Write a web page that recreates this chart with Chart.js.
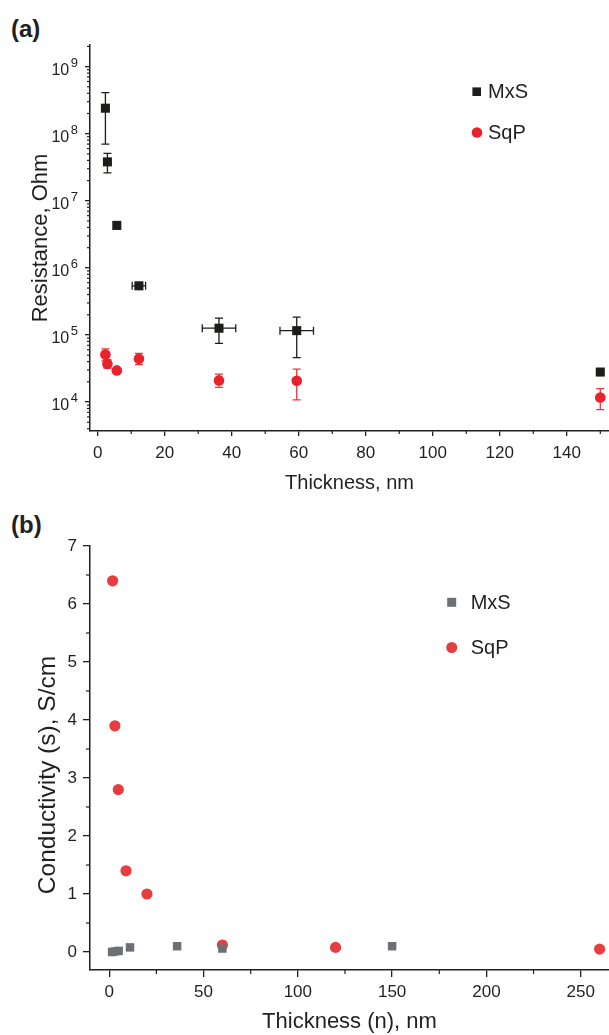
<!DOCTYPE html>
<html>
<head>
<meta charset="utf-8">
<script src="https://cdn.jsdelivr.net/npm/chart.js@4.4.1/dist/chart.umd.min.js"></script>
<style>
  body { margin: 0; background: #fff; width: 609px; height: 1035px; position: relative; overflow: hidden;
         font-family: "Liberation Sans", Arial, Helvetica, sans-serif; }
  .panel { position: absolute; left: 11px; font-weight: bold; font-size: 24px; line-height: 1; color: #231f20; }
  .wrap { position: absolute; left: 0; }
</style>
</head>
<body>
<div class="panel" style="top:17px">(a)</div>
<div class="panel" style="top:513px">(b)</div>
<div class="wrap" style="top:0"><canvas id="chartA" width="609" height="500"></canvas></div>
<div class="wrap" style="top:500px"><canvas id="chartB" width="609" height="535"></canvas></div>
<script>
const fontFamily = '"Liberation Sans", Arial, Helvetica, sans-serif';
const ink = '#231f20';

// (a) resistance vs thickness
const thickA = [2.3, 2.9, 5.7, 12.3, 36.2, 59.4, 150];
const mxsRes = [2.4e8, 3.8e7, 4.3e6, 5.4e5, 1.26e5, 1.16e5, 2.8e4];
const mxsResHi = [4.1e8, 5.1e7, 4.9e6, null, 1.78e5, 1.84e5, null];
const mxsResLo = [7.0e7, 2.6e7, 3.8e6, null, 7.5e4, 4.6e4, null];
const mxsThickErr = [0, 0, 0, 2, 5, 5, 0];
const sqpRes = [5.1e4, 3.7e4, 2.96e4, 4.4e4, 2.1e4, 2.08e4, 1.17e4];
const sqpResHi = [6.2e4, 4.3e4, null, 5.3e4, 2.6e4, 3.1e4, 1.58e4];
const sqpResLo = [4.1e4, 3.2e4, null, 3.6e4, 1.65e4, 1.08e4, 7.7e3];
const ticksAx = [0, 20, 40, 60, 80, 100, 120, 140];
const minorAx = [10, 30, 50, 70, 90, 110, 130, 150];
const ticksAy = [1e4, 1e5, 1e6, 1e7, 1e8, 1e9];

// (b) conductivity vs thickness
const thickMxsB = [1.5, 3, 5, 11, 36, 60, 150];
const condMxs = [0.0, 0.01, 0.02, 0.08, 0.1, 0.06, 0.1];
const thickSqpB = [1.8, 3, 4.8, 8.9, 20, 60, 120, 260];
const condSqp = [6.4, 3.9, 2.8, 1.4, 1.0, 0.12, 0.08, 0.05];
const ticksBx = [0, 50, 100, 150, 200, 250];
const minorBx = [25, 75, 125, 175, 225];
const ticksBy = [0, 1, 2, 3, 4, 5, 6, 7];
const minorBy = [0.5, 1.5, 2.5, 3.5, 4.5, 5.5, 6.5];

// minor ticks of a log axis: 2..9 x 10^k
const minorAy = [];
for (let k = 3; k <= 9; k++) for (let m = 2; m <= 9; m++) minorAy.push(m * Math.pow(10, k));

const pts = (xs, ys) => xs.map((x, i) => ({ x, y: ys[i] }));

function drawMinor(chart, id, values, len) {
  const s = chart.scales[id], ctx = chart.ctx;
  ctx.save();
  ctx.strokeStyle = ink;
  ctx.lineWidth = 1.2;
  values.forEach(v => {
    if (v < s.min || v > s.max) return;
    const p = s.getPixelForValue(v);
    ctx.beginPath();
    if (s.isHorizontal()) { ctx.moveTo(p, s.top); ctx.lineTo(p, s.top + len); }
    else { ctx.moveTo(s.right, p); ctx.lineTo(s.right - len, p); }
    ctx.stroke();
  });
  ctx.restore();
}

function drawErrors(chart, xs, ys, hi, lo, xErr, color) {
  const { ctx, scales: { x, y } } = chart;
  const cap = 4;
  ctx.save();
  ctx.strokeStyle = color;
  ctx.lineWidth = 1.3;
  xs.forEach((xv, i) => {
    const px = x.getPixelForValue(xv), py = y.getPixelForValue(ys[i]);
    ctx.beginPath();
    if (hi[i] != null) {
      const t = y.getPixelForValue(hi[i]), b = y.getPixelForValue(lo[i]);
      ctx.moveTo(px, t); ctx.lineTo(px, b);
      ctx.moveTo(px - cap, t); ctx.lineTo(px + cap, t);
      ctx.moveTo(px - cap, b); ctx.lineTo(px + cap, b);
    }
    if (xErr && xErr[i]) {
      const l = x.getPixelForValue(xv - xErr[i]), r = x.getPixelForValue(xv + xErr[i]);
      ctx.moveTo(l, py); ctx.lineTo(r, py);
      ctx.moveTo(l, py - cap); ctx.lineTo(l, py + cap);
      ctx.moveTo(r, py - cap); ctx.lineTo(r, py + cap);
    }
    ctx.stroke();
  });
  ctx.restore();
}

function drawLegend(ctx, items, size) {
  ctx.save();
  ctx.font = size + 'px ' + fontFamily;
  ctx.textBaseline = 'middle';
  ctx.textAlign = 'left';
  items.forEach(it => {
    ctx.fillStyle = it.color;
    if (it.shape === 'rect') ctx.fillRect(it.x - it.r, it.y - it.r, it.r * 2, it.r * 2);
    else { ctx.beginPath(); ctx.arc(it.x, it.y, it.r, 0, Math.PI * 2); ctx.fill(); }
    ctx.fillStyle = ink;
    ctx.fillText(it.label, it.tx, it.y + 1);
  });
  ctx.restore();
}

// fixed scale boxes so the plot area lands where the original has it
const fitX = h => s => { s.height = h; s.paddingLeft = 0; s.paddingRight = 0; };
const fitY = s => { s.width = 90; };

function axis(extra) {
  return Object.assign({
    type: 'linear',
    border: { display: true, color: ink, width: 1.5 },
    grid: { drawOnChartArea: false, drawTicks: true, tickLength: 6, color: ink, lineWidth: 1.3 },
    ticks: { color: ink, font: { family: fontFamily, size: 17 }, autoSkip: false, maxRotation: 0 }
  }, extra);
}

Chart.defaults.font.family = fontFamily;
Chart.defaults.color = ink;

new Chart(document.getElementById('chartA'), {
  type: 'scatter',
  data: {
    datasets: [
      { label: 'MxS', data: pts(thickA, mxsRes), pointStyle: 'rect', pointRadius: 6.4,
        pointBackgroundColor: '#1d1d1b', pointBorderWidth: 0, clip: false },
      { label: 'SqP', data: pts(thickA, sqpRes), pointStyle: 'circle', pointRadius: 5.3,
        pointBackgroundColor: '#e8212a', pointBorderWidth: 0, clip: false }
    ]
  },
  options: {
    responsive: false,
    animation: false,
    layout: { autoPadding: false, padding: { top: 45, left: 0, right: 0, bottom: 0 } },
    plugins: { legend: { display: false }, tooltip: { enabled: false } },
    scales: {
      x: axis({
        min: -2.3, max: 152.6,
        afterBuildTicks: s => { s.ticks = ticksAx.map(v => ({ value: v })); },
        afterFit: fitX(69),
        ticks: { color: ink, font: { family: fontFamily, size: 17 }, autoSkip: false, maxRotation: 0, padding: 7 },
        grid: { drawOnChartArea: false, drawTicks: true, tickLength: 5, color: ink, lineWidth: 1.3 },
        title: { display: true, text: 'Thickness, nm', color: ink,
                 font: { family: fontFamily, size: 20 }, padding: { top: 0, bottom: 5 } }
      }),
      y: axis({
        type: 'logarithmic',
        min: 3.7e3, max: 2.1e9,
        afterBuildTicks: s => { s.ticks = ticksAy.map(v => ({ value: v })); },
        afterFit: fitY,
        ticks: { callback: () => '', autoSkip: false },
        grid: { drawOnChartArea: false, drawTicks: true, tickLength: 5, color: ink, lineWidth: 1.3 },
        title: { display: true, text: 'Resistance, Ohm', color: ink,
                 font: { family: fontFamily, size: 22 }, padding: { top: 28, bottom: 0 } }
      })
    }
  },
  plugins: [{
    id: 'extrasA',
    beforeDatasetsDraw(chart) {
      drawErrors(chart, thickA, mxsRes, mxsResHi, mxsResLo, mxsThickErr, '#1d1d1b');
      drawErrors(chart, thickA, sqpRes, sqpResHi, sqpResLo, null, '#e8373c');
    },
    afterDraw(chart) {
      drawMinor(chart, 'x', minorAx, 3);
      drawMinor(chart, 'y', minorAy, 3);
      const s = chart.scales.y, ctx = chart.ctx;
      ctx.save();
      ctx.fillStyle = ink;
      ctx.textAlign = 'right';
      ctx.textBaseline = 'alphabetic';
      ticksAy.forEach(v => {
        const py = s.getPixelForValue(v);
        const exp = String(Math.round(Math.log10(v)));
        ctx.font = '13px ' + fontFamily;
        const ew = ctx.measureText(exp).width;
        ctx.fillText(exp, 78, py);
        ctx.font = '16px ' + fontFamily;
        ctx.fillText('10', 78 - ew - 1.5, py + 8);
      });
      ctx.restore();
      drawLegend(ctx, [
        { shape: 'rect', color: '#1d1d1b', x: 476.7, y: 91.7, r: 4.3, tx: 488, label: 'MxS' },
        { shape: 'circle', color: '#e8212a', x: 477, y: 132.5, r: 5.3, tx: 488, label: 'SqP' }
      ], 20);
    }
  }]
});

new Chart(document.getElementById('chartB'), {
  type: 'scatter',
  data: {
    datasets: [
      { label: 'MxS', data: pts(thickMxsB, condMxs), pointStyle: 'rect', pointRadius: 6,
        pointBackgroundColor: '#6e6f73', pointBorderWidth: 0, clip: false },
      { label: 'SqP', data: pts(thickSqpB, condSqp), pointStyle: 'circle', pointRadius: 5.6,
        pointBackgroundColor: '#e93c3f', pointBorderWidth: 0, clip: false }
    ]
  },
  options: {
    responsive: false,
    animation: false,
    layout: { autoPadding: false, padding: { top: 46, left: 0, right: 0, bottom: 0 } },
    plugins: { legend: { display: false }, tooltip: { enabled: false } },
    scales: {
      x: axis({
        min: -10.2, max: 265,
        afterBuildTicks: s => { s.ticks = ticksBx.map(v => ({ value: v })); },
        afterFit: fitX(65),
        ticks: { color: ink, font: { family: fontFamily, size: 17 }, autoSkip: false, maxRotation: 0, padding: 5 },
        grid: { drawOnChartArea: false, drawTicks: true, tickLength: 7, color: ink, lineWidth: 1.3 },
        title: { display: true, text: 'Thickness (n), nm', color: ink,
                 font: { family: fontFamily, size: 22 }, padding: { top: 0, bottom: 0 } }
      }),
      y: axis({
        min: -0.31, max: 7,
        afterBuildTicks: s => { s.ticks = ticksBy.map(v => ({ value: v })); },
        afterFit: fitY,
        ticks: { color: ink, font: { family: fontFamily, size: 17 }, autoSkip: false, padding: 6 },
        grid: { drawOnChartArea: false, drawTicks: true, tickLength: 7, color: ink, lineWidth: 1.3 },
        title: { display: true, text: 'Conductivity (s), S/cm\u00a0\u00a0\u00a0\u00a0\u00a0', color: ink,
                 font: { family: fontFamily, size: 24.5 }, padding: { top: 34, bottom: 0 } }
      })
    }
  },
  plugins: [{
    id: 'extrasB',
    afterDraw(chart) {
      drawMinor(chart, 'x', minorBx, 4);
      drawMinor(chart, 'y', minorBy, 4);
      drawLegend(chart.ctx, [
        { shape: 'rect', color: '#6e6f73', x: 451.7, y: 102.3, r: 4.5, tx: 470.7, label: 'MxS' },
        { shape: 'circle', color: '#e93c3f', x: 451.7, y: 147.5, r: 5.5, tx: 470.7, label: 'SqP' }
      ], 20);
    }
  }]
});
</script>
</body>
</html>
